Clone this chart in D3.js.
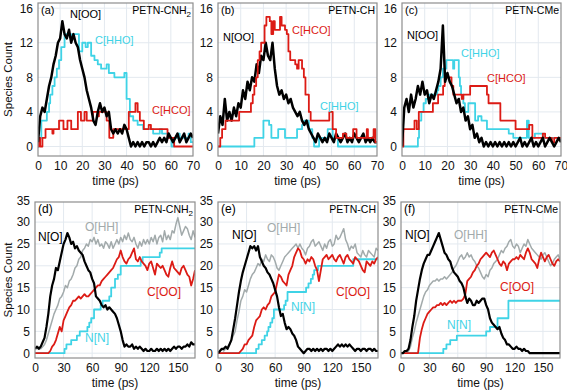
<!DOCTYPE html>
<html>
<head>
<meta charset="utf-8">
<script src="https://cdn.jsdelivr.net/npm/d3@7"></script>
<style>
  body { margin: 0; background: #fff; }
  svg { font-family: "Liberation Sans", Arial, sans-serif; }
</style>
</head>
<body>
<svg id="chart" width="567" height="390"></svg>
<script>
// sample times (ps)
const tTop = [0,1,2,3,4,5,6,7,8,9,10,11,12,13,14,15,16,17,18,19,20,21,22,23,24,25,26,27,28,29,30,31,32,33,34,35,
  36,37,38,39,40,41,42,43,44,45,46,47,48,49,50,51,52,53,54,55,56,57,58,59,60,61,62,63,64,65,66,67,68,69,70];
const tBot = [0,2,4,6,8,10,12,14,16,18,20,22,24,26,28,30,32,34,36,38,40,42,44,46,48,50,52,54,56,58,60,62,64,66,68,
  70,72,74,76,78,80,82,84,86,88,90,92,94,96,98,100,102,104,106,108,110,112,114,116,118,120,122,124,126,128,130,
  132,134,136,138,140,142,144,146,148,150,152,154,156,158,160,162,164,166,168];

// tick labels
const topXTicks = [0,10,20,30,40,50,60,70];
const topYTicks = [0,4,8,12,16];
const botXTicks = [0,30,60,90,120,150];
const botYTicks = [0,5,10,15,20,25,30,35];

// (a) PETN-CNH2
const aNOO = [0.5,3.5,4.5,4,5.5,7,8,9.5,10.5,12, 12.5,14.5,13,12.5,13.5,12,13,12,11.5,10,
  9,8,6.5,5.5,4.5,3,2.5,4,5,4, 4.5,3.5,4,2,1.5,2,1.5,2,1.5,2.5, 2,1,0,0.5,0,0.5,0,0.5,0,0.5,
  0.5,0,0.5,0,0.5,1,0.5,1,0.5,1.5, 1,0.5,1,1.5,0.5,1,1.5,0.5,1,1.5,1];
const aCHHO = [[0,0],[0.5,1],[1.5,3],[4,4],[5,5],[5.5,6],[6.5,7],[7.5,8],[8.5,9],[9.5,10],[10.5,11.5],[12,13],
  [15,12.5],[16,13],[18.5,11],[20,12],[21.5,11.5],[22.5,12],[24,10.5],[25.5,10],[27,9.5],[28.5,9],[31,9.5],
  [32,8.5],[34.5,8],[39,8.5],[40,5.5],[41.5,3.5],[43,3],[45,2.5],[47.5,2],[52,1.5],[55,2],[56,1.5],[58.5,1],
  [60.3,0],[61.3,1],[63,1.5],[64,1],[68,1.5],[69,0.5],[70,0.5]];
const aCHCO = [[0,0],[0.3,1],[1,0],[2,1],[3.4,2],[6.5,1.5],[7,2],[9.5,3],[11.5,2],[13.3,3],[15,2],[18,4],
  [19.4,3],[21,4],[22,3],[24.8,4],[27,3.5],[27.5,4],[31,3],[32.2,1],[34,2],[41,4],[44,5],[45,4],[46,3],
  [47.8,2],[50,2.5],[51,2],[58.5,1],[61.5,0],[70,0]];

// (b) PETN-CH
const bNOO = [1.5,3.5,2.5,5.5,3,4,3,4.5,3.5,5, 4.5,6.5,5.5,7.5,6.5,8,7.5,9.5,8.5,10.5,
  10,12,10.5,10,12,9,7,6,6.5,5.5, 6,5,5.5,4.5,4,3.5,4,3,2.5,3, 2,1.5,1,0.5,1.5,1,0.5,1,0.5,1.5,
  1,0.5,1.5,1,0.5,1,1.5,0.5,1,0.5, 1.5,1,0.5,1,1.5,0.5,1,0.5,1,0.5,0.5];
const bCHCO = [[0,0],[1,1],[1.8,2],[3.3,3],[9.3,4],[14.5,5],[15.3,6],[16,7],[16.8,8],[17.5,10],[18.3,11],
  [19,12],[20.5,14],[21.3,15],[22.8,14.5],[23.5,13],[24.3,14.5],[25,13.5],[27.3,15],[28,14],[29.5,13.5],
  [30.3,13],[31,11],[31.8,10],[34,9.5],[34.8,9],[35.5,10],[37,9],[37.8,8],[38.5,6],[40,4],[40.8,3],
  [48.3,3],[49,4],[50.5,2],[52,1],[55,1.5],[56.5,1],[59.5,2],[61,1],[65.5,2],[66,1],[68.5,2],[69.3,0.5],[70,0.5]];
const bCHHO = [[0,0],[16,1],[20,3],[22.5,2.5],[23.5,1],[26.5,2],[29.5,1],[34.8,2],[37,2.5],[38,3],[40,2],
  [41.5,1],[42.3,0],[44.5,1],[48.3,2],[50.5,1],[52.8,0],[70,0]];

// (c) PETN-CMe
const cNOO = [0,4.5,5.5,4,6,4.5,5.5,7,6,7.5, 6,6.5,5,6,5.5,6.5,7.5,9,14,7.5,
  8.5,7.5,7,6,5,5.5,4,4.5,3,3.5, 2,2.5,1,1.5,0.5,1,0,0.5,0,0.5, 0,0.5,0,0.5,0,0.5,0,0.5,0,0.5,
  0,0.5,1,0,0.5,0,0.5,1,0,0.5, 0,0.5,1,0,0.5,1,0.5,0,0.5,1,0.5];
const cCHHO = [[0,0],[7,1],[7.5,3],[8.5,4],[9.5,5],[10.5,5.5],[12,6],[15.5,6.5],[16,7],[17,8],[18,9],
  [19.5,10],[22.5,9],[23,10],[25,8],[25.5,7],[26,6],[27,5],[27.7,4],[29.2,5],[32.2,3],[33.5,3.5],[35,3],
  [37.4,2],[47,1.5],[49,1],[55,3],[55.8,1],[58.5,1.5],[62,1],[70,1]];
const cCHCO = [[0,0],[0.6,2],[5.5,3],[6.5,2],[7.4,4],[13.6,5],[15.9,6],[18.1,7],[18.8,8],[21.8,7],[22.6,6],
  [26.3,5.5],[27,6],[30,7],[37.4,6],[38.1,5],[43.3,3],[50,2],[56,2.5],[57.4,1],[62,1.5],[63,1],[66,0.5],
  [67,1],[70,1]];

// (d) PETN-CNH2
const dNO = [1,1.5,1,1.5,2.5,3.5,6,9,13,15.5, 17,19.5,19,21,23,25,26,27.5,26.5,25,
  25.5,24,24.5,23.5,23,22.5,21,20,19,18.5, 17,16,13,12.5,12,11,10.5,11,10,10.5,
  10,9.5,9,8,6.5,5,3,1.5,2,1.5, 1.5,2,1,1.5,1,1.5,1,0.5,1,0.5, 0.5,1,0.5,0.5,1,0.5,1,0.5,1,0.5,
  1,0.5,1,1.5,1,1.5,1.5,1,1.5,1.5, 2,1.5,2.5,2,2];
const dOHH = [1,1,1.5,1,1.5,2,3,4.5,6,7.5, 9,10,11,12.5,13,14,15.5,15,16.5,17,
  18,19.5,20,21.5,22,23.5,24,25,24.5,26, 25.5,26.5,25,26,24.5,25,24,25.5,25,24,
  25.5,24,25,26,25,26.5,25.5,27,26,27.5, 26,25.5,26.5,25,24,25.5,24.5,26,25,26,
  25,26.5,25.5,27,25,26.5,27,25.5,28,26, 27,26,28,27.5,29.5,31,29,27,28,29, 28.5,27,26,28,26.5];
const dCOO = [0,0,0,0,0,0,0,0,0.5,1.5, 2,3,4.5,6,5,7.5,8.5,9.5,10.5,11,
  12,12,12.5,13,12.5,13,13.5,13,13,13.5, 14,14.5,15,15.5,15.5,16.5,17,17.5,18,18.5,
  19,19.5,20.5,21.5,22,23.5,22,21,20.5,21.5, 22,23,24,21.5,21,22,21,20.5,20,19,
  20.5,21,19.5,18,20.5,20,19.5,20,19,18, 17.5,19.5,21,19.5,19,18.5,18,19.5,20,19, 18,17.5,15.5,17,19];
const dNN = [[0,0],[31,1],[33,2],[38,3],[44,4],[47,5],[55,6],[57,7],[59,8],[62,10],[69,11],[71,12],[78,13],
  [80,15],[84,17],[87,18],[90,20],[111,21],[113,22],[131,23],[133,24],[168,24]];

// (e) PETN-CH
const eNO = [0,0.5,1,1,1.5,1,2,3,5.5,8, 11,14,16.5,18.5,20,21.5,23,24.5,24,24.5,
  23.5,24.5,22,21,20,19.5,18.5,18,17,16, 14.5,13,10.5,8.5,9,7,5.5,6,5.5,4.5,
  4,3,1.5,1,0.5,0,0.5,1,1,0.5, 1,0.5,1,0.5,1,0.5,1,1,0.5,1, 0.5,1,1.5,2,1.5,2,1.5,2,1.5,2,
  1.5,1,0.5,1,1,0.5,1,1,0.5,1, 1,0.5,1,0.5,0.5];
const eOHH = [0,0.5,1,0.5,1,1.5,2,3,4,5, 7.5,9.5,12,13,14.5,14,15.5,17,18,18.5,
  19.5,20.5,20,21.5,21,22.5,21.5,21,22.5,22, 21,19.5,19,20,21,22,22.5,23,23.5,24,
  24.5,25,24,25,24,23.5,22.5,24,24.5,25.5, 26,24.5,25,25.5,24.5,23.5,25,24,25.5,26,
  24.5,25,27,26,26.5,27.5,28.5,26,25,23.5, 24.5,24,25,23,22.5,22,23.5,22.5,22,23.5, 23,22.5,22,24,23.5];
const eCOO = [0,0,0,0,0,0,0,0,0,0, 0,0,0.5,1,2,2,3,3.5,4,6,
  7.5,8,8.5,10,10.5,10,11,11.5,13,13.5, 14,16,18,17.5,16.5,16,15.5,18,19,20,
  22,23,24,23.5,22,21.5,20.5,21.5,21,22, 21.5,20,19,16.5,19,21.5,22,22.5,21.5,22,
  22.5,21.5,21,22,22.5,21.5,20.5,22,22.5,21.5, 21,20.5,22,21.5,21,20,19,18.5,21,20.5, 20,21,20.5,21.5,22];
const eNN = [[0,0],[40,1],[42.7,2],[46,3],[49,4],[51.6,5],[53,6],[55,7],[57,8],[58.7,10],[69.4,11],[71,12],
  [73,14],[92.5,15],[95,16],[97.5,17],[99.5,18],[101,19],[105,20],[142,21.5],[168,21.5]];

// (f) PETN-CMe
const fNO = [0,0,0.5,0.5,1,3,6,8.5,12,14.5, 17,19,20.5,21.5,22.5,22.5,23.5,24.5,25.5,26.5,
  27.5,26,24.5,23,22.5,21.5,21,19.5,18.5,18, 17.5,16.5,16,15,13,11.5,12.5,12,11,11,
  12,11.5,12,12.5,12.5,11,10,8,7,6.5, 6,5.5,6,4.5,3.5,3,2,2,1.5,1, 1,1.5,1,1,0.5,1,0.5,0.5,0,0,
  0,0,0,0,0,0,0,0,0,0, 0,0,0,0,0];
const fOHH = [0,0,0,0,0.5,1.5,3.5,5,7,8.5, 10,11.5,13,14,14.5,15.5,16,16.5,16.5,17,
  16.5,17,17,17.5,17,17.5,18,18.5,19.5,20, 21,22,22.5,21.5,22,23,22,22.5,21.5,21,
  20,19.5,18.5,17.5,17,18,17.5,19,19.5,20.5, 21,21.5,22.5,23.5,23,24,24.5,25.5,26,24.5,
  24,25,24.5,23,24,25,24.5,26,25,24, 23.5,23,22.5,22,21.5,22.5,23,22,21,20, 20.5,21.5,22,22.5,21.5];
const fCOO = [0,0,0,0,0,0,0,0,0,0, 3.5,5.5,7,8,9,9.5,10,10.5,10.5,11,
  11,11.5,11,11.5,11,11.5,12,11.5,12,11.5, 12,12,12,12.5,13.5,16.5,17,17.5,18.5,19,
  20,20.5,21.5,22,22.5,23,22.5,22,23,23.5, 22.5,21.5,20.5,20,21,20.5,19,20.5,21,21.5,
  21.5,22,21.5,22.5,22,21.5,23,24,23,21.5, 21,20.5,19.5,21.5,23,22,21,22,22.5,21.5, 20.5,20,21,21.5,21];
const fNN = [[0,0],[44.7,1],[48,2],[52,3],[59,4],[90,5],[94,6],[102,8],[113.5,12],[168,12]];

const pairs = (ts, vs) => ts.map((t, i) => [t, vs[i]]);

const colors = { black: '#000000', cyan: '#3fd3e6', red: '#dc1b15', grey: '#a2aaab' };

const svg = d3.select('#chart');
const topY = d3.scaleLinear().domain([-1.1, 16.6]).range([156, 3]);
const botY = d3.scaleLinear().domain([-1.1, 34.6]).range([358, 202]);

const panels = [
  { id: 'a', tag: '(a)', name: 'PETN-CNH', sub: '2', left: 38, right: 193, y: topY, xMax: 70,
    xTicks: topXTicks, yTicks: topYTicks, yLabel: true, fs: 11,
    series: [
      { data: aCHHO, color: colors.cyan, w: 1.8, step: true },
      { data: aCHCO, color: colors.red, w: 1.8, step: true },
      { data: pairs(tTop, aNOO), color: colors.black, w: 2.5 }],
    labels: [
      { text: 'N[OO]', x: 70, y: 18, color: colors.black },
      { text: 'C[HHO]', x: 95, y: 44, color: colors.cyan },
      { text: 'C[HCO]', x: 152, y: 114, color: colors.red }] },
  { id: 'b', tag: '(b)', name: 'PETN-CH', left: 218, right: 377, y: topY, xMax: 70,
    xTicks: topXTicks, yTicks: topYTicks, fs: 11,
    series: [
      { data: bCHHO, color: colors.cyan, w: 1.8, step: true },
      { data: pairs(tTop, bNOO), color: colors.black, w: 2.5 },
      { data: bCHCO, color: colors.red, w: 1.8, step: true }],
    labels: [
      { text: 'N[OO]', x: 223, y: 41, color: colors.black },
      { text: 'C[HCO]', x: 292, y: 34, color: colors.red },
      { text: 'C[HHO]', x: 320, y: 110, color: colors.cyan }] },
  { id: 'c', tag: '(c)', name: 'PETN-CMe', left: 402, right: 561, y: topY, xMax: 70,
    xTicks: topXTicks, yTicks: topYTicks, fs: 11,
    series: [
      { data: cCHHO, color: colors.cyan, w: 1.8, step: true },
      { data: cCHCO, color: colors.red, w: 1.8, step: true },
      { data: pairs(tTop, cNOO), color: colors.black, w: 2.5 }],
    labels: [
      { text: 'N[OO]', x: 407, y: 39, color: colors.black },
      { text: 'C[HHO]', x: 461, y: 57, color: colors.cyan },
      { text: 'C[HCO]', x: 487, y: 82, color: colors.red }] },
  { id: 'd', tag: '(d)', name: 'PETN-CNH', sub: '2', left: 35, right: 195, y: botY, xMax: 168,
    xTicks: botXTicks, yTicks: botYTicks, yLabel: true, fs: 12,
    series: [
      { data: pairs(tBot, dOHH), color: colors.grey, w: 1.5 },
      { data: dNN, color: colors.cyan, w: 1.8, step: true },
      { data: pairs(tBot, dCOO), color: colors.red, w: 1.8 },
      { data: pairs(tBot, dNO), color: colors.black, w: 2.2 }],
    labels: [
      { text: 'N[O]', x: 38, y: 241, color: colors.black },
      { text: 'O[HH]', x: 85, y: 231, color: colors.grey },
      { text: 'C[OO]', x: 147, y: 296, color: colors.red },
      { text: 'N[N]', x: 85, y: 342, color: colors.cyan }] },
  { id: 'e', tag: '(e)', name: 'PETN-CH', left: 218, right: 378, y: botY, xMax: 168,
    xTicks: botXTicks, yTicks: botYTicks, fs: 12,
    series: [
      { data: pairs(tBot, eOHH), color: colors.grey, w: 1.5 },
      { data: eNN, color: colors.cyan, w: 1.8, step: true },
      { data: pairs(tBot, eCOO), color: colors.red, w: 1.8 },
      { data: pairs(tBot, eNO), color: colors.black, w: 2.2 }],
    labels: [
      { text: 'N[O]', x: 232, y: 239, color: colors.black },
      { text: 'O[HH]', x: 267, y: 232, color: colors.grey },
      { text: 'C[OO]', x: 336, y: 296, color: colors.red },
      { text: 'N[N]', x: 291, y: 311, color: colors.cyan }] },
  { id: 'f', tag: '(f)', name: 'PETN-CMe', left: 401, right: 560, y: botY, xMax: 168,
    xTicks: botXTicks, yTicks: botYTicks, fs: 12,
    series: [
      { data: pairs(tBot, fOHH), color: colors.grey, w: 1.5 },
      { data: fNN, color: colors.cyan, w: 1.8, step: true },
      { data: pairs(tBot, fCOO), color: colors.red, w: 1.8 },
      { data: pairs(tBot, fNO), color: colors.black, w: 2.2 }],
    labels: [
      { text: 'N[O]', x: 405, y: 239, color: colors.black },
      { text: 'O[HH]', x: 454, y: 239, color: colors.grey },
      { text: 'C[OO]', x: 500, y: 291, color: colors.red },
      { text: 'N[N]', x: 447, y: 329, color: colors.cyan }] }
];

const drawPanel = (p) => {
  const x = d3.scaleLinear().domain([0, p.xMax]).range([p.left, p.right]);
  const y = p.y;
  const bottom = y.range()[0];
  const top = y.range()[1];
  const g = svg.append('g');

  // clip for the curves
  svg.append('clipPath').attr('id', 'clip-' + p.id)
    .append('rect')
    .attr('x', p.left).attr('y', top)
    .attr('width', p.right - p.left).attr('height', bottom - top);

  // grid lines
  g.append('g').selectAll('line')
    .data(p.xTicks.filter(t => t > 0 && t < p.xMax))
    .enter().append('line')
    .attr('x1', d => x(d)).attr('x2', d => x(d))
    .attr('y1', top).attr('y2', bottom)
    .attr('stroke', '#e3e9ef').attr('stroke-width', 1);
  g.append('g').selectAll('line')
    .data(p.yTicks.filter(t => y(t) > top + 1 && y(t) < bottom - 1))
    .enter().append('line')
    .attr('x1', p.left).attr('x2', p.right)
    .attr('y1', d => y(d)).attr('y2', d => y(d))
    .attr('stroke', '#e3e9ef').attr('stroke-width', 1);

  // curves
  p.series.forEach(s => {
    const line = d3.line()
      .x(d => x(d[0]))
      .y(d => y(d[1]))
      .curve(s.step ? d3.curveStepAfter : d3.curveLinear);
    g.append('path')
      .datum(s.data)
      .attr('clip-path', `url(#clip-${p.id})`)
      .attr('fill', 'none')
      .attr('stroke', s.color)
      .attr('stroke-width', s.w)
      .attr('stroke-linejoin', 'round')
      .attr('d', line);
  });

  // frame
  g.append('rect')
    .attr('x', p.left).attr('y', top)
    .attr('width', p.right - p.left).attr('height', bottom - top)
    .attr('fill', 'none').attr('stroke', '#8e8e8e').attr('stroke-width', 1.2);

  // axes (labels only)
  const yAxis = g.append('g')
    .attr('transform', `translate(${p.left}, 0)`)
    .call(d3.axisLeft(y).tickValues(p.yTicks).tickSize(0).tickPadding(5));
  const xAxis = g.append('g')
    .attr('transform', `translate(0, ${bottom})`)
    .call(d3.axisBottom(x).tickValues(p.xTicks).tickSize(0).tickPadding(5));
  [yAxis, xAxis].forEach(a => {
    a.select('.domain').remove();
    a.attr('font-size', 12).attr('font-family', null);
    a.selectAll('text').attr('fill', '#111');
  });

  g.append('text')
    .attr('x', (p.left + p.right) / 2)
    .attr('y', bottom + 29)
    .attr('text-anchor', 'middle')
    .attr('font-size', 12)
    .attr('fill', '#111')
    .text('time (ps)');

  if (p.yLabel) {
    g.append('text')
      .attr('transform', `translate(12, ${(top + bottom) / 2}) rotate(-90)`)
      .attr('text-anchor', 'middle')
      .attr('font-size', 11.5)
      .attr('fill', '#111')
      .text('Species Count');
  }

  // panel tag and molecule name
  g.append('text')
    .attr('x', p.left + 3).attr('y', top + 11)
    .attr('font-size', p.fs)
    .text(p.tag);
  const name = g.append('text')
    .attr('x', p.right - 2).attr('y', top + 11)
    .attr('text-anchor', 'end')
    .attr('font-size', 10.5)
    .text(p.name);
  if (p.sub) {
    name.append('tspan').attr('dy', 3).attr('font-size', 8).text(p.sub);
  }

  // series labels
  g.selectAll('text.lab')
    .data(p.labels)
    .enter().append('text')
    .attr('class', 'lab')
    .attr('x', d => d.x).attr('y', d => d.y)
    .attr('font-size', p.fs)
    .attr('fill', d => d.color)
    .text(d => d.text);
};

panels.forEach(drawPanel);
</script>
</body>
</html>
